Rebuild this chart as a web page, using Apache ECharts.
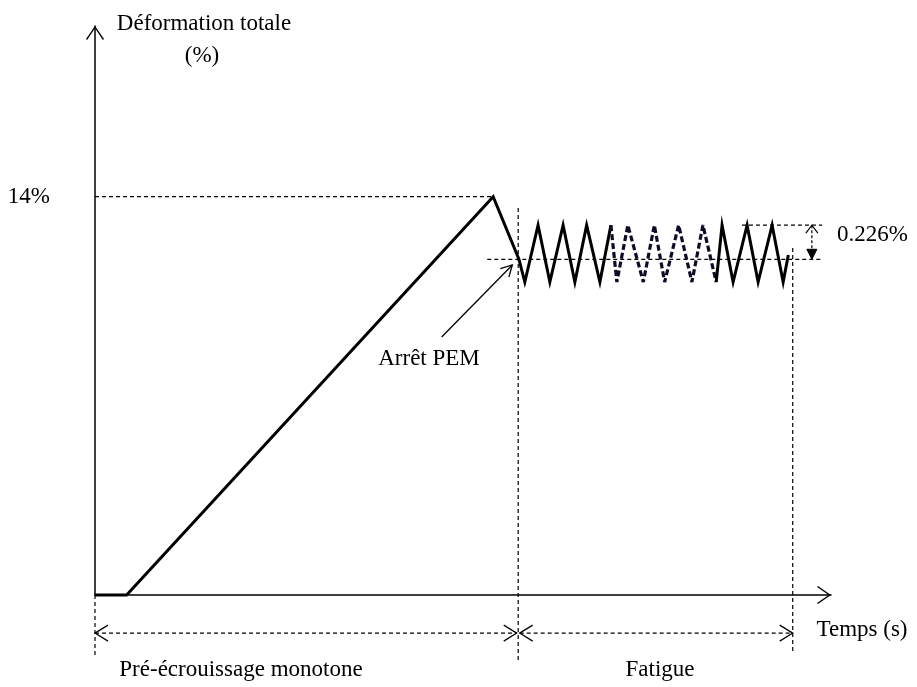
<!DOCTYPE html>
<html>
<head>
<meta charset="utf-8">
<script src="https://cdn.jsdelivr.net/npm/echarts@6/dist/echarts.min.js"></script>
<style>
html,body{margin:0;padding:0;background:#fff;}
#chart{width:917px;height:687px;}
</style>
</head>
<body>
<div id="chart"></div>
<script>
// ---- data (time in arbitrary units 0..100, strain in %) ----
var prestrainCurve = [[0,0],[4.3,0],[54.1,14.0],[57.6,11.8],[58.4,11.0],[60.2,13.0],[61.8,11.0],[63.6,13.0],[65.2,11.0],[66.8,13.0],[68.6,11.0],[70.1,13.0]];
var fatigueDashed = [[70.1,13.0],[70.9,11.0],[72.4,13.0],[74.5,11.0],[76.0,13.0],[77.4,11.0],[79.3,13.0],[81.1,11.0],[82.6,13.0],[84.4,11.0]];
var fatigueEnd = [[84.4,11.0],[85.2,13.0],[86.7,11.0],[88.6,13.0],[90.1,11.0],[92.0,13.0],[93.5,11.0],[94.2,11.95]];
var guideLines = [
  [[0,14],[54.1,14]],
  [[53.3,11.8],[98.8,11.8]],
  [[87.9,13.0],[98.8,13.0]],
  [[57.5,13.6],[57.5,-2.35]],
  [[94.8,12.2],[94.8,-2.0]],
  [[0,0],[0,-2.2]]
];
var spanArrows = [[0,-1.34,57.3,-1.34],[57.7,-1.34,94.8,-1.34]];
var amplitudeArrow = [[97.4,13.0,97.4,11.8]];
var pemArrow = [[47.1,9.07,56.7,11.6]];
var yTickValues = [14];
var labels = {
  yName: 'Déformation totale',
  yUnit: '(%)',
  xName: 'Temps (s)',
  pem: 'Arrêt PEM',
  amp: '0.226%',
  phase1: 'Pré-écrouissage monotone',
  phase2: 'Fatigue'
};

// ---- build ----
var guideData = [];
guideLines.forEach(function (seg, i) {
  if (i > 0) guideData.push([null, null]);
  guideData.push(seg[0], seg[1]);
});

var FONT = 'Liberation Serif';
var FS = 23;
var chevPath = 'path://M0,0 L9,13 L7.9,13.9 L0,2.3 L-7.9,13.9 L-9,13 Z';

function chevron(tip, dir, len, half) {
  var bx = tip[0] - dir[0] * len, by = tip[1] - dir[1] * len;
  var nx = -dir[1], ny = dir[0];
  return [[bx + nx * half, by + ny * half], [tip[0], tip[1]], [bx - nx * half, by - ny * half]];
}
function unit(a, b) {
  var dx = b[0] - a[0], dy = b[1] - a[1], l = Math.sqrt(dx * dx + dy * dy);
  return [dx / l, dy / l];
}

function renderSpan(params, api) {
  var p1 = api.coord([api.value(0), api.value(1)]);
  var p2 = api.coord([api.value(2), api.value(3)]);
  var d = unit(p1, p2);
  return {
    type: 'group',
    children: [
      { type: 'line', shape: { x1: p1[0], y1: p1[1], x2: p2[0], y2: p2[1] }, style: { stroke: '#000', lineWidth: 1.2, lineDash: [4, 3] } },
      { type: 'polyline', shape: { points: chevron(p1, [-d[0], -d[1]], 13, 8) }, style: { stroke: '#000', lineWidth: 1.2, fill: null } },
      { type: 'polyline', shape: { points: chevron(p2, d, 13, 8) }, style: { stroke: '#000', lineWidth: 1.2, fill: null } }
    ]
  };
}
function renderAmp(params, api) {
  var p1 = api.coord([api.value(0), api.value(1)]);
  var p2 = api.coord([api.value(2), api.value(3)]);
  var d = unit(p1, p2);
  var tri = chevron(p2, d, 10, 5);
  return {
    type: 'group',
    children: [
      { type: 'line', shape: { x1: p1[0], y1: p1[1], x2: p2[0], y2: p2[1] }, style: { stroke: '#000', lineWidth: 1.2, lineDash: [3, 2] } },
      { type: 'polyline', shape: { points: chevron(p1, [-d[0], -d[1]], 8, 6) }, style: { stroke: '#000', lineWidth: 1.2, fill: null } },
      { type: 'polygon', shape: { points: tri }, style: { fill: '#000', stroke: '#000', lineWidth: 1 } }
    ]
  };
}
function renderPem(params, api) {
  var p1 = api.coord([api.value(0), api.value(1)]);
  var p2 = api.coord([api.value(2), api.value(3)]);
  var d = unit(p1, p2);
  return {
    type: 'group',
    children: [
      { type: 'line', shape: { x1: p1[0], y1: p1[1], x2: p2[0], y2: p2[1] }, style: { stroke: '#000', lineWidth: 1.3 } },
      { type: 'polyline', shape: { points: chevron(p2, d, 11, 6) }, style: { stroke: '#000', lineWidth: 1.3, fill: null } }
    ]
  };
}

var txt = function (text, x, y, align) {
  return { type: 'text', x: x, y: y, style: { text: text, font: FS + 'px "' + FONT + '"', fill: '#000', textAlign: align || 'center', textVerticalAlign: 'middle' } };
};

var chart = echarts.init(document.getElementById('chart'), null, { renderer: 'canvas' });
chart.setOption({
  backgroundColor: '#fff',
  animation: false,
  grid: { left: 95, right: 86, top: 26, bottom: 92, containLabel: false },
  xAxis: {
    type: 'value', min: 0, max: 100,
    axisLine: { show: true, onZero: false, symbol: ['none', chevPath], symbolSize: [18, 14], symbolOffset: [0, -7], lineStyle: { color: '#000', width: 1.5 } },
    axisTick: { show: false }, axisLabel: { show: false }, splitLine: { show: false }
  },
  yAxis: {
    type: 'value', min: 0, max: 20, interval: 14,
    axisLine: { show: true, onZero: false, symbol: ['none', chevPath], symbolSize: [18, 14], symbolOffset: [0, -7], lineStyle: { color: '#000', width: 1.5 } },
    axisTick: { show: false }, splitLine: { show: false },
    axisLabel: {
      show: true, margin: 45, color: '#000', fontFamily: FONT, fontSize: FS,
      formatter: function (v) { return yTickValues.indexOf(v) >= 0 ? v + '%' : ''; }
    }
  },
  series: [
    { type: 'line', data: guideData, symbol: 'none', clip: false, connectNulls: false, silent: true,
      lineStyle: { color: '#000', width: 1.2, type: [4, 3] }, z: 1 },
    { type: 'line', data: prestrainCurve, symbol: 'none', clip: false,
      lineStyle: { color: '#000', width: 3, join: 'miter' }, z: 3 },
    { type: 'line', data: fatigueDashed, symbol: 'none', clip: false,
      lineStyle: { color: '#0d0d2a', width: 3.2, type: [6, 3] }, z: 3 },
    { type: 'line', data: fatigueEnd, symbol: 'none', clip: false,
      lineStyle: { color: '#000', width: 3, join: 'miter' }, z: 3 },
    { type: 'custom', data: spanArrows, renderItem: renderSpan, clip: false, silent: true, encode: { x: [0, 2], y: [1, 3] }, z: 2 },
    { type: 'custom', data: amplitudeArrow, renderItem: renderAmp, clip: false, silent: true, encode: { x: [0, 2], y: [1, 3] }, z: 2 },
    { type: 'custom', data: pemArrow, renderItem: renderPem, clip: false, silent: true, encode: { x: [0, 2], y: [1, 3] }, z: 2 }
  ],
  graphic: [
    txt(labels.yName, 204, 24),
    txt(labels.yUnit, 202, 56),
    txt(labels.xName, 862, 630),
    txt(labels.pem, 429, 359),
    txt(labels.amp, 837, 235, 'left'),
    txt(labels.phase1, 241, 670),
    txt(labels.phase2, 660, 670)
  ]
});
</script>
</body>
</html>
